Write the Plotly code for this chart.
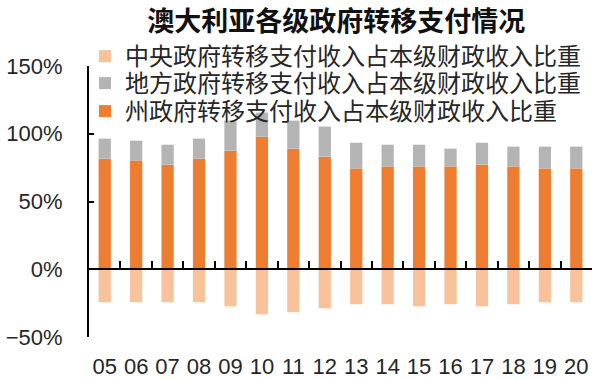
import plotly.graph_objects as go

years = ["05", "06", "07", "08", "09", "10", "11", "12", "13", "14", "15", "16", "17", "18", "19", "20"]
state_share = [81.6, 80.2, 77.2, 81.6, 87.5, 97.8, 89.0, 83.1, 74.3, 75.8, 75.8, 75.8, 77.2, 75.8, 74.3, 74.3]
local_share = [14.8, 14.7, 14.7, 14.8, 22.2, 17.8, 20.7, 22.2, 19.1, 16.1, 16.1, 13.2, 16.2, 14.7, 16.2, 16.2]
central_share = [-24.3, -24.3, -24.3, -24.3, -27.3, -33.2, -31.7, -28.8, -25.8, -25.8, -27.3, -25.8, -27.3, -25.8, -24.3, -24.3]

names = ["州政府转移支付收入占本级财政收入比重",
         "地方政府转移支付收入占本级财政收入比重",
         "中央政府转移支付收入占本级财政收入比重"]
colors = ["#ED7D31", "#B4B4B4", "#F8C29A"]
legend_ids = ["legend3", "legend2", "legend"]

FONT = "Liberation Sans, Arial, Noto Sans CJK SC, sans-serif"
CJK = "Noto Sans CJK SC, sans-serif"
TXT = "#262626"
W, H = 594, 380
ML, MR, MT, MB = 89, 2, 66, 43
PW, PH = W - ML - MR, H - MT - MB

fig = go.Figure()
for vals, nm, c, lg in zip([state_share, local_share, central_share], names, colors, legend_ids):
    fig.add_trace(go.Bar(x=years, y=vals, name=nm, legend=lg,
                         marker=dict(color=c, line=dict(width=0))))

# helper invisible trace for the zero-line axis with boundary ticks
fig.add_trace(go.Scatter(x=[-0.5, len(years) - 0.5], y=[0, 0], xaxis="x2", mode="none",
                         showlegend=False, hoverinfo="skip"))

def leg(ypx):
    return dict(x=(85 - ML) / PW, xanchor="left",
                y=(H - MB - ypx) / PH, yanchor="middle",
                font=dict(family=CJK, size=24, color=TXT), bgcolor="rgba(0,0,0,0)")

fig.update_layout(
    width=W, height=H,
    margin=dict(l=ML, r=MR, t=MT, b=MB, autoexpand=False),
    paper_bgcolor="white", plot_bgcolor="white",
    barmode="relative", bargap=0.61,
    font=dict(family=FONT, color=TXT, size=22),
    title=dict(text="<b>澳大利亚各级政府转移支付情况</b>", xref="container", x=0.566, xanchor="center",
               yref="container", y=0.942, yanchor="middle",
               font=dict(family=CJK, size=27, color="#111111")),
    legend=leg(56.5),
    legend2=leg(83.5),
    legend3=leg(111.5),
    xaxis=dict(type="category", showline=False, ticks="", showgrid=False, zeroline=False,
               automargin=False,
               tickfont=dict(size=22, color=TXT, family=FONT), ticklabelstandoff=14),
    xaxis2=dict(overlaying="x", anchor="free", position=0.25, range=[-0.5, len(years) - 0.5],
                tickmode="linear", tick0=-0.5, dtick=1, ticks="inside", ticklen=7, tickwidth=2,
                tickcolor="black", showline=True, linecolor="black", linewidth=2, automargin=False,
                showticklabels=False, showgrid=False, zeroline=False, side="bottom"),
    yaxis=dict(range=[-50, 150], tickmode="linear", tick0=-50, dtick=50, ticksuffix="%",
               showline=True, linecolor="black", linewidth=2, ticks="inside", ticklen=5,
               tickwidth=2, tickcolor="black", showgrid=False, zeroline=False, automargin=False,
               tickfont=dict(size=22, color=TXT, family=FONT), ticklabelstandoff=20),
)

fig.write_html("out.html")
